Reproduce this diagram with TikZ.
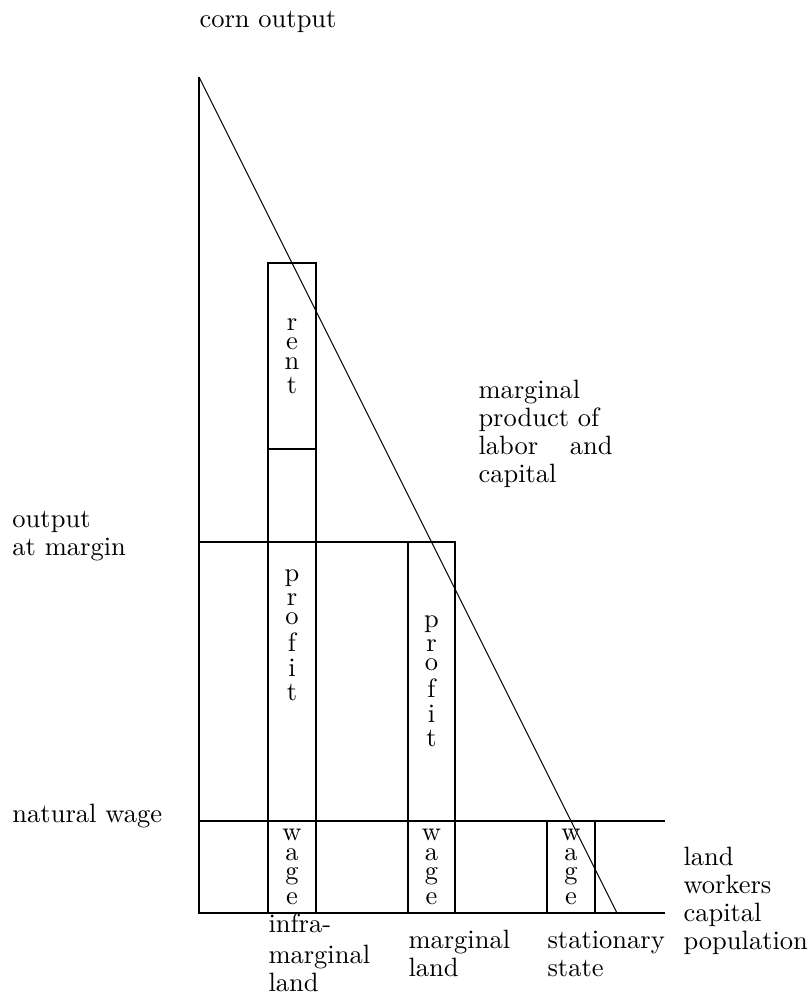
\documentclass[tikz,border=0pt]{standalone}
\begin{document}
\begin{tikzpicture}[x=0.4pt,y=-0.4pt,
  bar/.style={line width=0.8pt},
  curve/.style={line width=0.4pt},
  lbl/.style={inner sep=0pt,font=\fontsize{10.6}{11.2}\selectfont,align=left},
  stack/.style={inner sep=0pt,font=\fontsize{10.6}{11.2}\selectfont}]
\useasboundingbox (0,0) rectangle (810,1000);
% axes and boxes
\coordinate (top) at (199,77);
\coordinate (O) at (199,913);
\coordinate (xend) at (665,913);
\coordinate (tail) at (617,913);
\draw[bar] (top) -- (O) -- (xend);
\draw[bar] (199,821) -- (665,821);
\draw[bar] (199,542) -- (455,542);
\draw[bar] (268,263) rectangle (316,913);
\draw[bar] (268,449) -- (316,449);
\draw[bar] (408,542) rectangle (455,913);
\draw[bar] (547,821) rectangle (595,913);
\draw[curve] (top) -- (tail);
% stacked labels
\node[stack] (rent) at (292,356) {\shortstack{r\\e\\n\\t}};
\node[stack] (profitA) at (292,635) {\shortstack{p\\r\\o\\f\\i\\t}};
\node[stack] (profitB) at (431.5,681) {\shortstack{p\\r\\o\\f\\i\\t}};
\node[stack] (wageA) at (292,867) {\shortstack{w\\a\\g\\e}};
\node[stack] (wageB) at (431.5,867) {\shortstack{w\\a\\g\\e}};
\node[stack] (wageC) at (571,867) {\shortstack{w\\a\\g\\e}};
% text labels
\node[lbl,anchor=base west] (corn) at (199,28) {corn output};
\node[lbl,anchor=base west] (oam) at (12,555) {output\\at margin};
\node[lbl,anchor=base west] (nw) at (12,822) {natural wage};
\node[lbl,anchor=base west,text width=53.6pt] (mp) at (478,398) {marginal\\product of\\labor\hfill and\\capital};
\node[lbl,anchor=base west] (infra) at (268,991) {infra-\\[1pt]marginal\\land};
\node[lbl,anchor=base west] (marg) at (408,976) {marginal\\land};
\node[lbl,anchor=base west] (stat) at (547,976) {stationary\\state};
\node[lbl,anchor=base west] (fact) at (683,949) {land\\workers\\capital\\population};
\end{tikzpicture}
\end{document}
